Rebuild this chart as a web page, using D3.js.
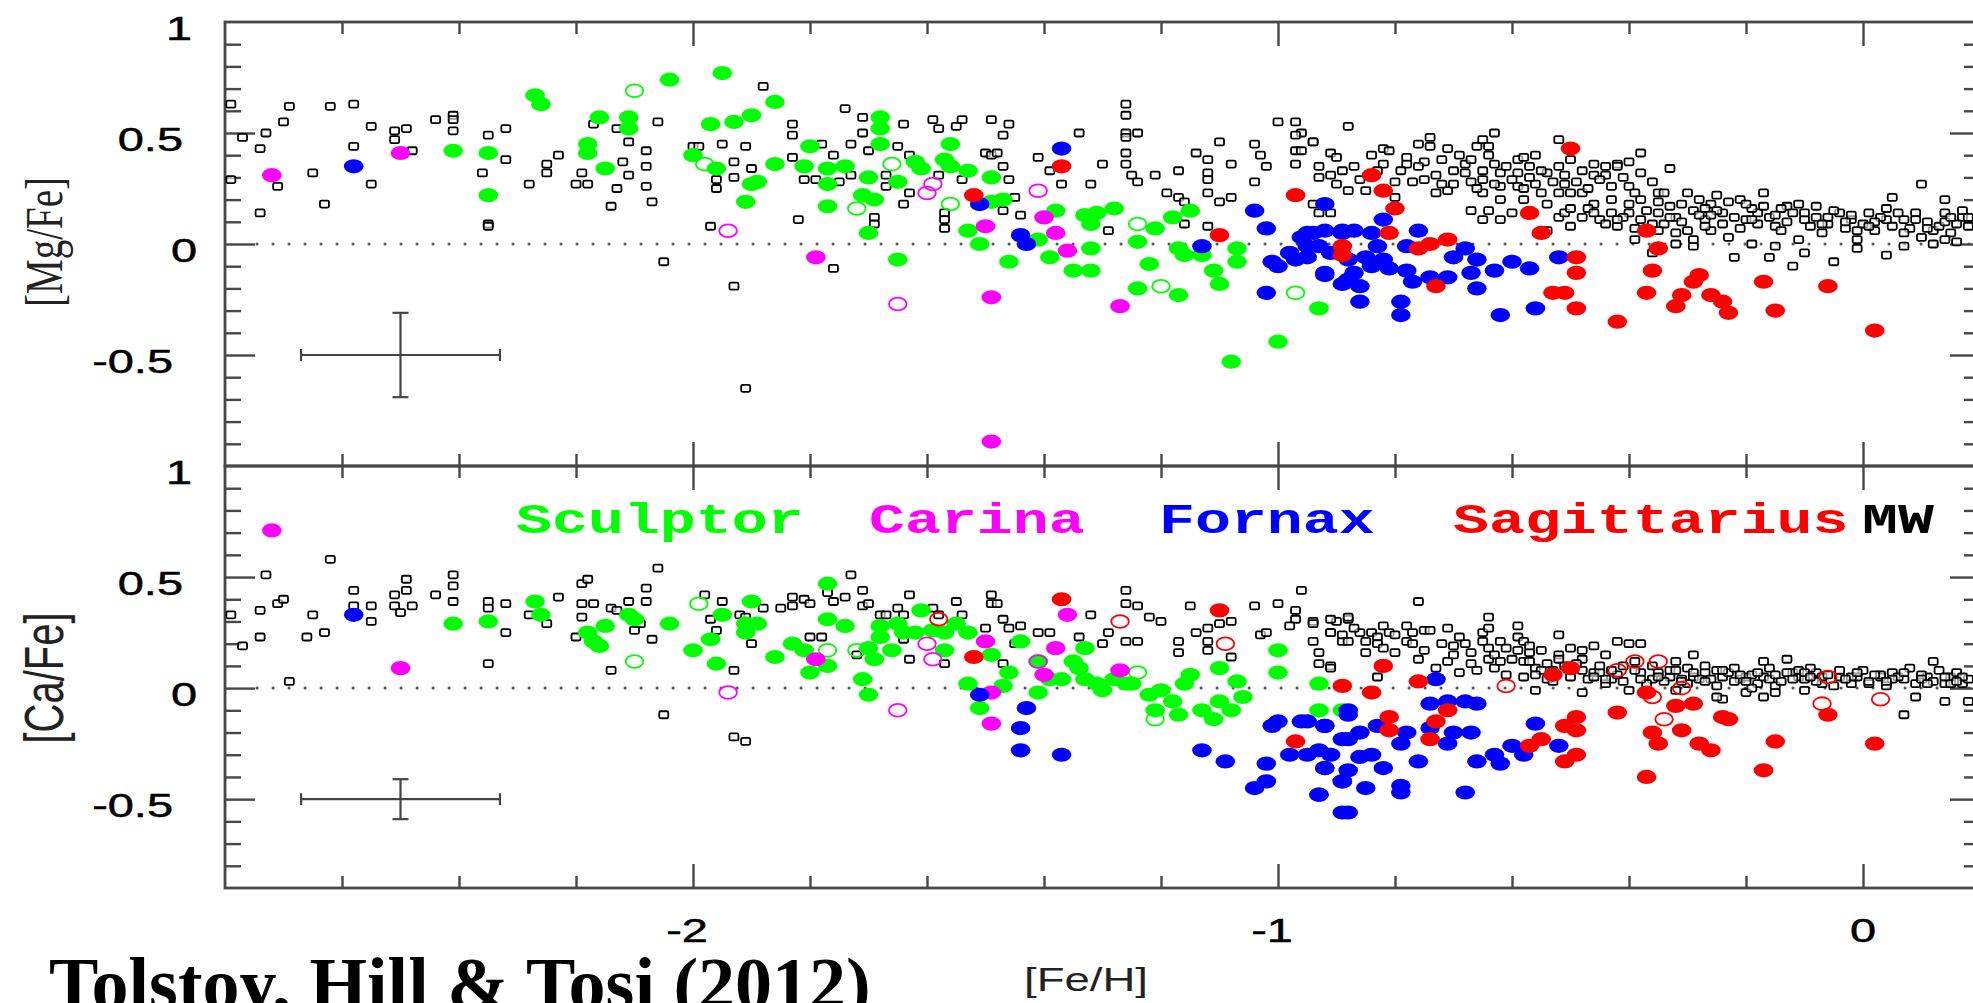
<!DOCTYPE html>
<html>
<head>
<meta charset="utf-8">
<script src="https://cdn.jsdelivr.net/npm/d3@7"></script>
<style>
	body { margin: 0; background: white; }
	#outer { width: 1973px; height: 1003px; overflow: hidden; }
</style>
</head>
<body>
<div id="outer"></div>
<script>
////////// DATA: [Fe/H], [X/Fe] //////////
const galaxyNames = ['Sculptor', 'Carina', 'Fornax', 'Sagittarius', 'MW'];
const xTickLabels = [-2, -1, 0];
const yTickLabels = [1, 0.5, 0, -0.5];
// error bar: [Fe/H], [X/Fe], +-[Fe/H], +-[X/Fe]
const mgErrorBar = [-2.5, -0.5, 0.17, 0.19];
const caErrorBar = [-2.5, -0.5, 0.17, 0.09];

/* [Mg/Fe] panel */
const mgMW = [
	[-2.79,0.63],[-2.77,0.48],[-2.73,0.50],[-2.74,0.43],[-2.70,0.55],[-2.69,0.62],[-2.71,0.26],[-2.74,0.14],[-2.79,0.29],[-2.65,0.32],
	[-2.63,0.18],[-2.62,0.62],[-2.58,0.63],[-2.58,0.44],[-2.55,0.53],[-2.55,0.27],[-2.51,0.51],[-2.51,0.47],[-2.49,0.52],[-2.48,0.42],
	[-2.44,0.56],[-2.41,0.58],[-2.41,0.56],[-2.41,0.51],[-2.35,0.49],[-2.32,0.52],[-2.32,0.38],[-2.36,0.32],[-2.35,0.09],[-2.35,0.08],
	[-2.28,0.27],[-2.25,0.36],[-2.25,0.32],[-2.23,0.40],[-2.20,0.27],[-2.18,0.27],[-2.19,0.32],[-2.17,0.54],[-2.13,0.52],[-2.12,0.37],
	[-2.13,0.25],[-2.14,0.17],[-2.11,0.46],[-2.11,0.31],[-2.08,0.42],[-2.08,0.35],[-2.08,0.26],[-2.07,0.19],[-2.06,0.55],[-2.05,-0.08],
	[-2.0,0.44],[-1.88,0.71],[-1.99,0.44],[-1.95,0.45],[-1.91,0.44],[-1.93,0.37],[-1.90,0.34],[-1.93,0.30],[-1.96,0.29],[-1.96,0.25],
	[-1.83,0.54],[-1.83,0.49],[-1.83,0.39],[-1.78,0.45],[-1.76,0.40],[-1.81,0.29],[-1.79,0.29],[-1.75,0.28],[-1.74,0.61],[-1.71,0.57],
	[-1.71,0.50],[-1.73,0.45],[-1.70,0.42],[-1.73,0.31],[-1.67,0.31],[-1.67,0.26],[-1.65,0.44],[-1.64,0.54],[-1.59,0.56],[-1.58,0.52],
	[-1.54,0.56],[-1.55,0.53],[-1.49,0.56],[-1.46,0.54],[-1.47,0.49],[-1.50,0.41],[-1.49,0.40],[-1.48,0.41],[-1.47,0.35],[-1.46,0.29],
	[-1.45,0.21],[-1.47,0.15],[-1.44,0.13],[-1.58,0.31],[-1.63,0.40],[-1.63,0.23],[-1.64,0.18],[-1.57,0.14],[-1.57,0.11],[-1.57,0.07],
	[-1.54,0.29],[-1.69,0.12],[-1.69,0.09],[-1.82,0.11],[-1.97,0.08],[-1.76,-0.11],[-1.93,-0.19],[-1.91,-0.65],[-1.41,0.39],[-1.39,0.33],
	[-1.37,0.27],[-1.34,0.50],[-1.32,0.27],[-1.30,0.36],[-1.29,0.06],[-1.26,0.63],[-1.26,0.58],[-1.26,0.50],[-1.26,0.48],[-1.24,0.50],
	[-1.26,0.41],[-1.26,0.36],[-1.25,0.31],[-1.24,0.28],[-1.21,0.31],[-1.19,0.23],[-1.17,0.33],[-1.17,0.21],[-1.16,0.19],[-1.16,0.09],
	[-1.14,0.41],[-1.12,0.38],[-1.12,0.32],[-1.12,0.29],[-1.12,0.23],[-1.10,0.46],[-1.10,0.19],[-1.08,0.36],[-1.08,0.21],[-1.12,0.08],
	[-1.04,0.45],[-1.03,0.40],[-1.02,0.35],[-1.04,0.28],[-1.0,0.55],[-0.97,0.55],[-0.96,0.50],[-0.97,0.49],[-0.97,0.42],[-0.96,0.42],
	[-0.94,0.46],[-0.97,0.36],[-0.93,0.35],[-0.91,0.41],[-0.91,0.31],[-0.93,0.30],[-0.89,0.33],[-0.88,0.53],[-0.88,0.24],[-0.93,0.14],
	[-0.91,0.14],[-0.94,0.18],[-0.94,0.46],[-0.90,0.39],[-0.85,0.24],[-0.84,0.40],[-0.82,0.43],[-0.81,0.42],[-0.82,0.36],[-0.80,0.21],
	[-0.78,0.39],[-0.78,0.36],[-0.77,0.28],[-0.75,0.29],[-0.76,0.45],[-0.74,0.48],[-0.74,0.44],[-0.75,0.37],[-0.72,0.38],[-0.71,0.43],
	[-0.73,0.23],[-0.71,0.24],[-0.70,0.27],[-0.68,0.36],[-0.68,0.32],[-0.67,0.28],[-0.66,0.44],[-0.65,0.47],[-0.64,0.44],[-0.63,0.50],
	[-0.64,0.40],[-0.65,0.33],[-0.65,0.29],[-0.65,0.23],[-0.63,0.36],[-0.62,0.32],[-0.62,0.26],[-0.62,0.20],[-0.67,0.15],[-0.64,0.15],
	[-0.65,0.11],[-0.62,0.11],[-0.60,0.14],[-0.59,0.38],[-0.58,0.39],[-0.59,0.32],[-0.59,0.26],[-0.58,0.20],[-0.57,0.35],[-0.56,0.27],
	[-0.55,0.23],[-0.54,0.32],[-0.52,0.35],[-0.52,0.47],[-0.51,0.27],[-0.52,0.23],[-0.50,0.23],[-0.48,0.33],[-0.48,0.23],[-0.46,0.36],
	[-0.46,0.31],[-0.44,0.31],[-0.42,0.36],[-0.42,0.35],[-0.40,0.37],[-0.38,0.41],[-0.38,0.32],[-0.40,0.26],[-0.33,0.34],[-0.54,0.18],
	[-0.52,0.12],[-0.54,0.06],[-0.51,0.14],[-0.50,0.08],[-0.48,0.12],[-0.46,0.18],[-0.45,0.11],[-0.43,0.14],[-0.42,0.08],[-0.40,0.18],
	[-0.40,0.14],[-0.39,0.02],[-0.38,0.11],[-0.38,0.20],[-0.35,0.23],[-0.34,0.23],[-0.35,0.14],[-0.34,0.09],[-0.32,0.12],[-0.32,0.05],
	[-0.30,0.23],[-0.29,0.15],[-0.28,0.20],[-0.27,0.11],[-0.26,0.18],[-0.26,0.06],[-0.24,0.14],[-0.23,0.19],[-0.21,0.20],[-0.20,0.11],
	[-0.18,0.14],[-0.17,0.23],[-0.17,0.17],[-0.15,0.08],[-0.13,0.17],[-0.11,0.18],[-0.10,0.11],[-0.08,0.17],[-0.07,0.05],[-0.04,0.14],
	[-0.02,0.11],[-0.01,0.06],[0.01,0.14],[0.04,0.11],[0.05,0.21],[0.07,0.11],[0.09,0.14],[0.10,0.27],[0.12,0.06],[0.14,0.14],
	[0.14,0.20],[0.15,0.05],[0.17,0.12],[0.18,0.08],[-0.36,-0.04],[-0.32,0.0],[-0.29,-0.01],[-0.22,-0.06],[-0.19,0.0],[-0.16,-0.06],
	[-0.15,-0.01],[-0.12,-0.10],[-0.10,-0.04],[-0.05,-0.08],[-0.01,0.02],[0.04,-0.05],[0.07,-0.01],[0.10,0.03],[0.14,0.02],[0.16,0.01],
	[-0.44,0.09],[-0.41,0.12],[-0.39,0.07],[-0.37,0.15],[-0.36,0.09],[-0.33,0.17],[-0.31,0.10],[-0.30,0.06],[-0.28,0.13],[-0.27,0.08],
	[-0.25,0.15],[-0.24,0.09],[-0.22,0.12],[-0.21,0.07],[-0.19,0.16],[-0.18,0.09],[-0.16,0.12],[-0.14,0.06],[-0.13,0.10],[-0.12,0.14],
	[-0.09,0.08],[-0.08,0.12],[-0.06,0.09],[-0.05,0.15],[-0.03,0.07],[-0.02,0.13],[0.0,0.09],[0.02,0.06],[0.03,0.12],[0.05,0.08],
	[0.06,0.14],[0.08,0.07],[0.11,0.10],[0.13,0.08],[0.16,0.09],[0.17,0.15],[-0.47,0.16],[-0.43,0.20],[-0.35,0.06],[-0.29,0.02],
	[-0.23,0.03],[-0.11,0.02],[-0.01,-0.02],[0.12,0.0],
	[-0.90,0.27],[-0.87,0.35],[-0.86,0.29],[-0.83,0.33],[-0.80,0.28],[-0.79,0.33],[-0.76,0.35],[-0.73,0.31],[-0.72,0.27],[-0.70,0.33],
	[-0.69,0.40],[-0.67,0.38],[-0.66,0.25],[-0.63,0.27],[-0.61,0.35],[-0.60,0.29],[-0.58,0.25],[-0.57,0.30],[-0.56,0.40],[-0.55,0.33],
	[-0.53,0.28],[-0.51,0.31],[-0.50,0.38],[-0.49,0.28],[-0.47,0.25],[-0.45,0.29],[-0.44,0.35],[-0.43,0.26],[-0.41,0.30],[-0.39,0.23],
	[-0.36,0.28],[-0.35,0.19],[-0.31,0.18],[-0.27,0.16],[-0.25,0.22],[-0.20,0.18],[-0.14,0.16],[-0.10,0.14],[-0.06,0.12],[-0.03,0.10],
	[0.02,0.10],[0.04,0.16],[0.07,0.05],[0.09,0.11],[0.11,0.07],[0.14,0.10],[0.15,0.12],[0.18,0.12],[-0.33,0.12],[-0.26,0.13],
	[-0.19,0.11],[-0.15,0.13],[-0.07,0.09],[0.01,0.08],[-0.42,0.11],[-0.46,0.14],[-0.50,0.16]
];
const mgSculptor = [
	[-2.41,0.42],[-2.35,0.41],[-2.35,0.22],[-2.27,0.67],[-2.26,0.63],[-2.16,0.57],[-2.18,0.45],[-2.18,0.41],[-2.15,0.34],[-2.11,0.57],
	[-2.11,0.52],[-2.04,0.74],[-2.0,0.40],[-1.95,0.77],[-1.97,0.54],[-1.93,0.55],[-1.90,0.58],[-1.86,0.64],[-1.96,0.34],[-1.90,0.27],
	[-1.89,0.28],[-1.91,0.19],[-1.86,0.36],[-1.80,0.44],[-1.81,0.35],[-1.77,0.34],[-1.74,0.35],[-1.77,0.27],[-1.77,0.17],[-1.70,0.30],
	[-1.71,0.22],[-1.69,0.20],[-1.70,0.05],[-1.68,0.57],[-1.68,0.52],[-1.68,0.45],[-1.65,0.28],[-1.65,-0.07],[-1.62,0.37],[-1.61,0.34],
	[-1.56,0.45],[-1.57,0.38],[-1.56,0.35],[-1.53,0.33],[-1.49,0.30],[-1.53,0.06],[-1.51,0.0],[-1.47,0.20],[-1.49,0.19],[-1.46,-0.08],
	[-1.38,0.15],[-1.39,-0.06],[-1.41,0.02],[-1.35,-0.12],[-1.32,-0.12],[-1.33,0.13],[-1.32,0.09],[-1.31,0.14],[-1.28,0.16],[-1.32,-0.02],
	[-1.24,0.01],[-1.22,-0.09],[-1.24,-0.20],[-1.21,0.07],[-1.18,0.12],[-1.15,0.15],[-1.17,-0.02],[-1.16,-0.05],[-1.13,-0.05],[-1.17,-0.23],
	[-1.11,-0.12],[-1.10,-0.18],[-1.07,-0.02],[-1.07,-0.08],[-1.08,-0.53],[-1.0,-0.44],[-0.93,-0.29]
];
const mgSculptorOpen = [[-2.10,0.69],[-1.98,0.36],[-1.72,0.16],[-1.66,0.36],[-1.56,0.18],[-1.24,0.09],[-1.20,-0.19],[-0.97,-0.22]];
const mgCarina = [[-2.72,0.31],[-2.50,0.41],[-1.79,-0.06],[-1.50,0.08],[-1.40,0.12],[-1.38,0.05],[-1.36,-0.03],[-1.49,-0.24],[-1.27,-0.28],[-1.49,-0.89]];
const mgCarinaOpen = [[-1.94,0.06],[-1.65,-0.27],[-1.59,0.27],[-1.60,0.23],[-1.41,0.24]];
const mgFornax = [
	[-2.58,0.35],[-1.37,0.43],[-1.51,0.18],[-1.44,0.04],[-1.43,0.0],[-1.13,-0.01],[-1.04,0.15],[-1.02,0.07],[-0.92,0.18],[-1.01,-0.08],
	[-1.0,-0.10],[-1.02,-0.22],[-0.96,0.03],[-0.94,0.05],[-0.92,0.06],[-0.89,0.05],[-0.98,-0.04],[-0.97,-0.07],[-0.92,-0.14],[-0.89,-0.18],
	[-0.95,-0.01],[-0.91,-0.04],[-0.82,0.11],[-0.95,0.05],[-0.89,0.06],[-0.87,0.06],[-0.84,0.05],[-0.93,-0.01],[-0.95,-0.06],[-0.92,-0.13],
	[-0.88,-0.07],[-0.85,-0.06],[-0.83,-0.01],[-0.82,-0.07],[-0.87,-0.13],[-0.88,-0.16],[-0.86,-0.19],[-0.84,-0.10],[-0.81,-0.11],[-0.78,-0.12],
	[-0.78,-0.01],[-0.76,0.06],[-0.77,-0.17],[-0.74,-0.15],[-0.71,-0.15],[-0.68,-0.02],[-0.70,-0.06],[-0.66,-0.07],[-0.67,-0.13],[-0.66,-0.20],
	[-0.63,-0.12],[-0.60,-0.08],[-0.57,-0.11],[-0.86,-0.26],[-0.79,-0.26],[-0.79,-0.32],[-0.62,-0.32],[-0.56,-0.29],[-0.52,-0.06]
];
const mgSagittarius = [
	[-1.52,0.22],[-1.37,0.35],[-0.97,0.22],[-1.10,0.04],[-0.89,-0.05],[-0.84,0.31],[-0.82,0.24],[-0.80,0.16],[-0.81,0.05],[-0.89,-0.01],
	[-0.71,0.02],[-0.74,0.0],[-0.76,-0.02],[-0.73,-0.19],[-0.57,0.14],[-0.55,0.05],[-0.50,0.43],[-0.49,-0.06],[-0.49,-0.13],[-0.53,-0.22],
	[-0.51,-0.22],[-0.49,-0.29],[-0.42,-0.35],[-0.37,0.06],[-0.35,-0.02],[-0.36,-0.12],[-0.37,-0.22],[-0.28,-0.14],[-0.29,-0.17],[-0.31,-0.23],
	[-0.32,-0.28],[-0.26,-0.23],[-0.24,-0.26],[-0.23,-0.31],[-0.17,-0.17],[-0.15,-0.30],[-0.06,-0.19],[0.02,-0.39]
];

/* [Ca/Fe] panel */
const caMW = [
	[-2.79,0.33],[-2.77,0.19],[-2.73,0.51],[-2.74,0.35],[-2.74,0.23],[-2.71,0.38],[-2.70,0.40],[-2.69,0.03],[-2.66,0.23],[-2.65,0.33],
	[-2.63,0.25],[-2.62,0.58],[-2.58,0.44],[-2.58,0.37],[-2.55,0.37],[-2.55,0.30],[-2.51,0.42],[-2.51,0.37],[-2.49,0.49],[-2.49,0.44],
	[-2.50,0.34],[-2.48,0.37],[-2.44,0.42],[-2.41,0.51],[-2.41,0.46],[-2.41,0.39],[-2.35,0.39],[-2.35,0.36],[-2.32,0.38],[-2.32,0.25],
	[-2.35,0.11],[-2.28,0.33],[-2.25,0.29],[-2.23,0.41],[-2.19,0.47],[-2.18,0.49],[-2.19,0.38],[-2.17,0.38],[-2.19,0.32],[-2.20,0.23],
	[-2.14,0.36],[-2.13,0.35],[-2.11,0.39],[-2.08,0.39],[-2.08,0.45],[-2.09,0.29],[-2.10,0.26],[-2.14,0.08],[-2.07,0.22],[-2.06,0.54],
	[-2.05,-0.12],[-1.98,0.42],[-1.95,0.39],[-1.97,0.31],[-1.96,0.26],[-1.92,0.33],[-1.91,0.32],[-1.90,0.20],[-1.93,0.08],[-1.93,-0.22],
	[-1.91,-0.24],[-1.88,0.36],[-1.85,0.36],[-1.83,0.37],[-1.83,0.41],[-1.81,0.40],[-1.80,0.38],[-1.80,0.23],[-1.78,0.23],[-1.77,0.43],
	[-1.76,0.39],[-1.74,0.41],[-1.73,0.51],[-1.71,0.44],[-1.71,0.37],[-1.70,0.38],[-1.72,0.15],[-1.68,0.33],[-1.67,0.33],[-1.65,0.36],
	[-1.64,0.33],[-1.63,0.42],[-1.63,0.13],[-1.64,0.22],[-1.59,0.36],[-1.58,0.33],[-1.58,0.25],[-1.57,0.11],[-1.55,0.39],[-1.54,0.33],
	[-1.49,0.42],[-1.49,0.38],[-1.48,0.38],[-1.50,0.27],[-1.47,0.31],[-1.46,0.27],[-1.47,0.11],[-1.45,0.20],[-1.44,0.28],[-1.41,0.25],
	[-1.39,0.25],[-1.34,0.23],[-1.32,0.33],[-1.30,0.20],[-1.29,0.25],[-1.26,0.44],[-1.26,0.38],[-1.26,0.21],[-1.24,0.37],[-1.24,0.21],
	[-1.22,0.32],[-1.20,0.30],[-1.17,0.21],[-1.17,0.16],[-1.15,0.37],[-1.14,0.25],[-1.12,0.27],[-1.12,0.21],[-1.12,0.17],[-1.10,0.29],
	[-1.08,0.30],[-1.08,0.14],[-1.04,0.37],[-1.03,0.24],[-1.02,0.25],[-1.0,0.38],[-0.96,0.44],[-0.97,0.35],[-0.97,0.31],[-0.98,0.28],
	[-0.94,0.30],[-0.93,0.16],[-0.93,0.11],[-0.91,0.25],[-0.91,0.10],[-0.90,0.30],[-0.89,0.21],[-0.88,0.31],[-0.76,0.39],[-0.64,0.32],
	[-0.94,0.29],[-0.91,0.31],[-0.88,0.32],[-0.91,0.25],[-0.89,0.24],[-0.94,0.21],[-0.91,0.09],[-0.88,0.21],[-0.86,0.25],[-0.85,0.16],
	[-0.84,0.25],[-0.83,0.23],[-0.82,0.28],[-0.81,0.25],[-0.83,0.20],[-0.80,0.16],[-0.83,0.05],[-0.78,0.21],[-0.78,0.28],[-0.77,0.25],
	[-0.75,0.26],[-0.74,0.26],[-0.75,0.17],[-0.73,0.09],[-0.71,0.12],[-0.71,0.27],[-0.70,0.19],[-0.69,0.07],[-0.67,0.11],[-0.68,0.20],
	[-0.65,0.25],[-0.65,0.21],[-0.64,0.27],[-0.64,0.18],[-0.64,0.13],[-0.63,0.15],[-0.63,0.09],[-0.62,0.21],[-0.61,0.06],[-0.59,0.28],
	[-0.59,0.23],[-0.59,0.17],[-0.58,0.21],[-0.58,0.12],[-0.57,0.16],[-0.56,0.09],[-0.55,0.17],[-0.54,0.11],[-0.52,0.24],[-0.52,0.15],
	[-0.54,0.04],[-0.56,-0.01],[-0.50,0.18],[-0.48,0.08],[-0.48,0.17],[-0.48,-0.02],[-0.46,0.07],[-0.45,0.07],[-0.43,0.04],[-0.42,0.21],
	[-0.40,0.20],[-0.39,0.12],[-0.38,0.20],[-0.38,0.07],[-0.36,0.04],[-0.35,0.07],[-0.33,0.05],[-0.32,0.12],[-0.31,0.04],[-0.29,0.15],
	[-0.29,0.05],[-0.27,0.07],[-0.26,0.04],[-0.24,0.05],[-0.24,-0.05],[-0.23,0.07],[-0.21,0.04],[-0.20,0.05],[-0.18,0.02],[-0.17,0.12],
	[-0.17,0.05],[-0.15,0.01],[-0.15,-0.02],[-0.13,0.13],[-0.12,0.07],[-0.11,0.05],[-0.10,-0.01],[-0.08,0.07],[-0.07,0.02],[-0.04,0.05],
	[-0.02,0.02],[-0.01,0.05],[0.01,0.02],[0.03,0.05],[0.05,0.07],[0.07,0.04],[0.07,-0.12],[0.09,-0.04],[0.11,0.05],[0.12,0.12],
	[0.14,0.02],[0.14,-0.06],[0.15,0.05],[0.17,0.02],[0.18,-0.06],[-0.11,0.08],[-0.17,-0.04],[-0.20,-0.02],[-0.25,-0.04],[-0.32,-0.01],
	[-0.40,-0.01],[-0.58,0.05],[-0.55,0.08],[-0.53,0.03],[-0.51,0.10],[-0.47,0.04],[-0.45,0.10],[-0.44,0.02],[-0.42,0.06],[-0.41,0.03],
	[-0.39,0.08],[-0.37,0.02],[-0.36,0.10],[-0.34,0.03],[-0.33,0.08],[-0.30,0.02],[-0.30,0.09],[-0.28,0.04],[-0.27,0.10],[-0.25,0.01],
	[-0.25,0.08],[-0.22,0.03],[-0.22,0.09],[-0.19,0.06],[-0.19,0.00],[-0.16,0.04],[-0.16,0.09],[-0.14,0.03],[-0.13,0.07],[-0.10,0.04],
	[-0.09,0.09],[-0.07,0.05],[-0.05,0.01],[-0.04,0.08],[-0.02,0.05],[0.00,0.08],[0.01,0.03],[0.03,0.06],[0.04,0.01],[0.06,0.05],
	[0.08,0.09],[0.09,0.02],[0.10,0.06],[0.12,0.03],[0.13,0.08],[0.15,0.02],[0.16,0.07],[0.18,0.04],[-0.60,0.13],[-0.57,0.19],
	[-0.48,0.13],[-0.46,0.19],[-0.44,0.15],
	[-0.87,0.27],[-0.85,0.21],[-0.82,0.18],[-0.80,0.24],[-0.77,0.20],[-0.76,0.13],[-0.72,0.20],[-0.70,0.15],[-0.69,0.23],[-0.67,0.16],
	[-0.66,0.08],[-0.62,0.12],[-0.61,0.18],[-0.57,0.12],[-0.56,0.06],[-0.53,0.08],[-0.52,0.13],[-0.50,0.05],[-0.49,0.11],[-0.46,0.05],
	[-0.43,0.08],[-0.41,0.10],[-0.38,0.04],[-0.35,0.05],[-0.32,0.08],[-0.29,0.07],[-0.27,0.03],[-0.24,0.08],[-0.21,0.06],[-0.18,0.07],
	[-0.15,0.06],[-0.12,0.04],[-0.10,0.07],[-0.08,0.03],[-0.06,0.06],[-0.03,0.04],[-0.01,0.07],[0.02,0.06],[0.05,0.04],[0.07,0.07],
	[0.10,0.04],[0.11,0.02],[0.14,0.05],[0.17,0.05],[-0.44,0.04],[-0.31,0.03],[-0.20,0.03],[-0.09,0.05],[0.04,0.03],[0.16,0.03]
];
const caSculptor = [
	[-2.41,0.29],[-2.35,0.30],[-2.27,0.39],[-2.26,0.33],[-2.18,0.25],[-2.17,0.21],[-2.16,0.19],[-2.15,0.28],[-2.11,0.33],[-2.10,0.31],
	[-2.04,0.29],[-2.0,0.17],[-1.97,0.22],[-1.96,0.11],[-1.95,0.33],[-1.91,0.29],[-1.89,0.29],[-1.90,0.39],[-1.91,0.25],[-1.86,0.14],
	[-1.83,0.20],[-1.81,0.17],[-1.80,0.07],[-1.77,0.47],[-1.77,0.31],[-1.77,0.10],[-1.74,0.28],[-1.71,0.04],[-1.70,-0.03],[-1.70,0.18],
	[-1.69,0.13],[-1.68,0.28],[-1.68,0.23],[-1.66,0.17],[-1.65,0.29],[-1.64,0.25],[-1.62,0.25],[-1.61,0.35],[-1.59,0.26],[-1.57,0.25],
	[-1.57,0.17],[-1.55,0.29],[-1.53,0.25],[-1.53,0.02],[-1.51,-0.09],[-1.49,0.15],[-1.47,0.01],[-1.46,0.07],[-1.44,0.21],[-1.41,0.12],
	[-1.41,-0.02],[-1.39,0.04],[-1.37,0.04],[-1.35,0.12],[-1.34,0.09],[-1.33,0.18],[-1.33,0.04],[-1.31,0.02],[-1.30,-0.01],[-1.28,0.04],
	[-1.26,0.02],[-1.25,0.02],[-1.22,-0.03],[-1.21,-0.10],[-1.20,-0.01],[-1.18,-0.06],[-1.17,-0.12],[-1.16,0.02],[-1.15,0.06],[-1.13,-0.10],
	[-1.11,-0.14],[-1.10,0.09],[-1.10,-0.06],[-1.08,-0.10],[-1.07,0.03],[-1.06,-0.04],[-1.0,0.17],[-1.0,0.07],[-0.93,0.02],[-0.93,-0.10],
	[-0.89,-0.10]
];
const caSculptorOpen = [[-2.10,0.12],[-1.99,0.38],[-1.77,0.17],[-1.72,0.17],[-1.24,0.07],[-1.21,-0.14]];
const caCarina = [[-2.72,0.71],[-2.50,0.09],[-1.79,0.13],[-1.50,0.21],[-1.49,-0.02],[-1.49,-0.16],[-1.40,0.06],[-1.38,0.18],[-1.36,0.33],[-1.27,0.08]];
const caCarinaOpen = [[-1.94,-0.02],[-1.65,-0.10],[-1.60,0.20],[-1.59,0.13],[-1.41,0.12]];
const caFornax = [
	[-2.58,0.33],[-1.51,-0.03],[-1.43,-0.09],[-1.44,-0.18],[-1.44,-0.28],[-1.37,-0.30],[-1.13,-0.28],[-1.09,-0.33],[-1.02,-0.34],[-1.01,-0.17],
	[-1.0,-0.15],[-1.02,-0.42],[-1.04,-0.45],[-0.93,-0.48],[-0.96,-0.15],[-0.98,-0.30],[-0.95,-0.30],[-0.92,-0.17],[-0.92,-0.36],[-0.89,-0.23],
	[-0.89,-0.42],[-0.89,-0.56],[-0.88,-0.10],[-0.73,0.04],[-0.56,-0.16],[-0.52,-0.26],[-0.68,-0.47],[-0.88,-0.56],[-0.93,-0.48],[-0.95,-0.15],
	[-0.92,-0.17],[-0.88,-0.12],[-0.93,-0.28],[-0.91,-0.30],[-0.88,-0.23],[-0.92,-0.36],[-0.89,-0.42],[-0.85,-0.45],[-0.88,-0.37],[-0.86,-0.31],
	[-0.82,-0.36],[-0.79,-0.44],[-0.79,-0.47],[-0.78,-0.20],[-0.76,-0.33],[-0.79,-0.25],[-0.74,-0.07],[-0.74,-0.18],[-0.71,-0.06],[-0.70,-0.20],
	[-0.71,-0.25],[-0.68,-0.06],[-0.66,-0.07],[-0.67,-0.20],[-0.66,-0.33],[-0.63,-0.30],[-0.62,-0.34],[-0.60,-0.26],[-0.58,-0.30],[-0.86,-0.20],
	[-0.83,-0.17],[-0.84,-0.30]
];
const caSagittarius = [
	[-1.37,0.40],[-1.52,0.14],[-1.10,0.35],[-0.97,-0.24],[-0.89,0.01],[-0.82,0.10],[-0.84,-0.02],[-0.76,0.03],[-0.81,-0.13],[-0.81,-0.19],
	[-0.71,-0.10],[-0.73,-0.15],[-0.74,-0.23],[-0.53,0.06],[-0.50,0.09],[-0.49,-0.13],[-0.51,-0.17],[-0.49,-0.19],[-0.57,-0.26],[-0.55,-0.23],
	[-0.51,-0.33],[-0.49,-0.30],[-0.42,-0.11],[-0.37,-0.02],[-0.37,-0.40],[-0.36,-0.20],[-0.35,-0.25],[-0.32,-0.08],[-0.31,-0.19],[-0.29,-0.07],
	[-0.28,-0.25],[-0.26,-0.28],[-0.24,-0.13],[-0.23,-0.14],[-0.17,-0.37],[-0.15,-0.24],[-0.06,-0.12],[0.02,-0.25]
];
const caSagittariusOpen = [[-1.58,0.31],[-1.27,0.30],[-1.09,0.20],[-0.61,0.01],[-0.42,0.08],[-0.39,0.12],[-0.35,0.12],[-0.36,-0.04],[-0.31,0.0],[-0.34,-0.14],[-0.06,0.05],[-0.07,-0.07],[0.03,-0.05]];

function drawAbundanceChart () {
	////////// Hard Coded Defs //////////
	const width = 1973, height = 1003;
	const stretch = 1.38;		// the source figure was squashed, everything is wider than tall
	const frameColor = '#474747';
	const colors = { Sculptor: '#00ff00', Carina: '#ff00ff', Fornax: '#0000ff', Sagittarius: '#ff0000', MW: '#000000' };

	const x = d3.scaleLinear().domain([-2.8, 0.2]).range([225, 1980]);
	const panels = [
		{
			name: 'mg',
			y: d3.scaleLinear().domain([-1, 1]).range([466, 22]),
			title: '[Mg/Fe]', titleFont: 'Liberation Serif', titleSize: 39, titleY: 242,
			errorBar: mgErrorBar,
			series: [
				{ pts: mgMW, kind: 'square', color: colors.MW },
				{ pts: mgSculptor, kind: 'dot', color: colors.Sculptor },
				{ pts: mgSculptorOpen, kind: 'ring', color: colors.Sculptor },
				{ pts: mgCarina, kind: 'dot', color: colors.Carina },
				{ pts: mgCarinaOpen, kind: 'ring', color: colors.Carina },
				{ pts: mgFornax, kind: 'dot', color: colors.Fornax },
				{ pts: mgSagittarius, kind: 'dot', color: colors.Sagittarius }
			]
		},
		{
			name: 'ca',
			y: d3.scaleLinear().domain([-0.9, 1]).range([888, 466]),
			title: '[Ca/Fe]', titleFont: 'Liberation Sans', titleSize: 40, titleY: 678,
			errorBar: caErrorBar,
			series: [
				{ pts: caMW, kind: 'square', color: colors.MW },
				{ pts: caSculptor, kind: 'dot', color: colors.Sculptor },
				{ pts: caSculptorOpen, kind: 'ring', color: colors.Sculptor },
				{ pts: caCarina, kind: 'dot', color: colors.Carina },
				{ pts: caCarinaOpen, kind: 'ring', color: colors.Carina },
				{ pts: caFornax, kind: 'dot', color: colors.Fornax },
				{ pts: caSagittarius, kind: 'dot', color: colors.Sagittarius },
				{ pts: caSagittariusOpen, kind: 'ring', color: colors.Sagittarius }
			]
		}
	];
	// y tick labels are not aligned in the source, right edge per label
	const yLabelRight = { '1': 192, '0.5': 183, '0': 197, '-0.5': 173 };

	const isMajor = v => Math.abs(v - Math.round(v * 2) / 2) < 1e-6;

	////////// SVG //////////
	const svg = d3.select('#outer').append('svg')
		.attr('width', width)
		.attr('height', height)
		.style('font-family', 'Liberation Sans, Arial, sans-serif');
	svg.append('rect').attr('width', width).attr('height', height).attr('fill', 'white');

	panels.forEach(p => {
		const g = svg.append('g').attr('class', 'panel-' + p.name);
		const [yBot, yTop] = p.y.range();
		const [xL, xR] = x.range();

		// zero line
		g.append('line')
			.attr('x1', xL + 32).attr('x2', xR)
			.attr('y1', p.y(0)).attr('y2', p.y(0))
			.attr('stroke', '#555')
			.attr('stroke-width', 3)
			.attr('stroke-linecap', 'round')
			.attr('stroke-dasharray', '0.1,15.9');

		// ticks on all four sides, inward
		const xMinor = d3.range(-13, 1).map(i => i / 5).filter(v => Math.abs(v - Math.round(v)) > 1e-6);
		const xMajor = [-2, -1, 0];
		const yVals = d3.range(-9, 10).map(i => i / 10).filter(v => v > p.y.domain()[0] + 1e-6 && v < p.y.domain()[1] - 1e-6);
		const yMinor = yVals.filter(v => !isMajor(v));
		const yMajor = yVals.filter(isMajor);
		const tickG = g.append('g').attr('color', frameColor).attr('stroke-width', 2.4);
		const addAxis = (axis, tf) => tickG.append('g').attr('transform', tf).call(axis).call(a => a.select('.domain').remove());
		addAxis(d3.axisTop(x).tickValues(xMinor).tickSize(-12).tickFormat(''), `translate(0,${yTop})`);
		addAxis(d3.axisTop(x).tickValues(xMajor).tickSize(-24).tickFormat(''), `translate(0,${yTop})`);
		addAxis(d3.axisBottom(x).tickValues(xMinor).tickSize(-12).tickFormat(''), `translate(0,${yBot})`);
		addAxis(d3.axisBottom(x).tickValues(xMajor).tickSize(-24).tickFormat(''), `translate(0,${yBot})`);
		addAxis(d3.axisLeft(p.y).tickValues(yMinor).tickSize(-16).tickFormat(''), `translate(${xL},0)`);
		addAxis(d3.axisLeft(p.y).tickValues(yMajor).tickSize(-30).tickFormat(''), `translate(${xL},0)`);
		addAxis(d3.axisRight(p.y).tickValues(yMinor).tickSize(-16).tickFormat(''), `translate(${xR},0)`);
		addAxis(d3.axisRight(p.y).tickValues(yMajor).tickSize(-30).tickFormat(''), `translate(${xR},0)`);

		// frame
		g.append('rect')
			.attr('x', xL).attr('y', yTop)
			.attr('width', xR - xL).attr('height', yBot - yTop)
			.attr('fill', 'none')
			.attr('stroke', frameColor)
			.attr('stroke-width', 2.8);

		// y tick labels
		g.append('g').selectAll('text')
			.data(yTickLabels.filter(v => v <= p.y.domain()[1] && v > p.y.domain()[0]))
			.join('text')
			.attr('transform', d => `translate(${yLabelRight[String(d)]},${p.y(d) + 18}) scale(${stretch},1)`)
			.attr('text-anchor', 'end')
			.attr('font-size', 34)
			.attr('fill', '#000')
			.attr('stroke', '#000')
			.attr('stroke-width', 0.5)
			.text(d => String(d));

		// y title
		g.append('text')
			.attr('transform', `translate(44,${p.titleY}) scale(${stretch},1) rotate(-90)`)
			.attr('text-anchor', 'middle')
			.attr('dominant-baseline', 'central')
			.attr('font-family', p.titleFont)
			.attr('font-size', p.titleSize)
			.attr('fill', '#222')
			.text(p.title);

		// error bar
		const [ex, ey, edx, edy] = p.errorBar;
		const eg = g.append('g').attr('stroke', '#444').attr('stroke-width', 2.2);
		eg.append('line').attr('x1', x(ex - edx)).attr('x2', x(ex + edx)).attr('y1', p.y(ey)).attr('y2', p.y(ey));
		eg.append('line').attr('x1', x(ex)).attr('x2', x(ex)).attr('y1', p.y(ey - edy)).attr('y2', p.y(ey + edy));
		[ex - edx, ex + edx].forEach(v => eg.append('line').attr('x1', x(v)).attr('x2', x(v)).attr('y1', p.y(ey) - 6).attr('y2', p.y(ey) + 6));
		[ey - edy, ey + edy].forEach(v => eg.append('line').attr('x1', x(ex) - 8).attr('x2', x(ex) + 8).attr('y1', p.y(v)).attr('y2', p.y(v)));

		// points
		p.series.forEach(s => {
			const sg = g.append('g');
			if (s.kind === 'square') {
				sg.selectAll('rect').data(s.pts).join('rect')
					.attr('x', d => x(d[0]) - 4.5).attr('y', d => p.y(d[1]) - 3.5)
					.attr('width', 9).attr('height', 7).attr('rx', 1.5)
					.attr('fill', 'rgba(255,255,255,0.6)')
					.attr('stroke', '#000')
					.attr('stroke-width', 1.8);
			} else {
				sg.selectAll('ellipse').data(s.pts).join('ellipse')
					.attr('cx', d => x(d[0])).attr('cy', d => p.y(d[1]))
					.attr('rx', s.kind === 'dot' ? 9.8 : 8.8)
					.attr('ry', s.kind === 'dot' ? 7.1 : 6.4)
					.attr('fill', s.kind === 'dot' ? s.color : 'none')
					.attr('stroke', s.kind === 'dot' ? 'none' : s.color)
					.attr('stroke-width', 1.8);
			}
		});
	});

	////////// X AXIS LABELS //////////
	const xAxisY = panels[1].y.range()[0];
	svg.append('g').selectAll('text')
		.data(xTickLabels)
		.join('text')
		.attr('transform', d => `translate(${x(d) + (d < 0 ? -6 : 0)},${xAxisY + 54}) scale(${stretch},1)`)
		.attr('text-anchor', 'middle')
		.attr('font-size', 34)
		.attr('fill', '#000')
		.attr('stroke', '#000')
		.attr('stroke-width', 0.5)
		.text(d => String(d));

	svg.append('text')
		.attr('transform', `translate(1086,991) scale(${stretch},1)`)
		.attr('text-anchor', 'middle')
		.attr('font-size', 33)
		.attr('fill', '#222')
		.text('[Fe/H]');

	////////// LEGEND //////////
	const legendStart = { Sculptor: 516, Carina: 869, Fornax: 1159, Sagittarius: 1453, MW: 1862 };
	svg.append('g').selectAll('text')
		.data(galaxyNames)
		.join('text')
		.attr('transform', d => `translate(${legendStart[d]},533) scale(1.41,1)`)
		.attr('font-family', 'Liberation Mono, monospace')
		.attr('font-weight', 'bold')
		.attr('font-size', 42.5)
		.attr('fill', d => colors[d])
		.text(d => d);

	////////// CREDIT //////////
	svg.append('text')
		.attr('x', 49)
		.attr('y', 1009)
		.attr('font-family', 'Liberation Serif, serif')
		.attr('font-weight', 'bold')
		.attr('font-size', 74)
		.attr('fill', '#000')
		.text('Tolstoy, Hill & Tosi (2012)');
}

drawAbundanceChart();
</script>
</body>
</html>
